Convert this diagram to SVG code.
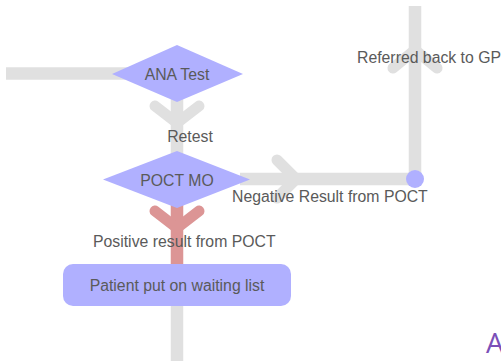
<svg xmlns="http://www.w3.org/2000/svg" width="501" height="363" viewBox="0 0 501 363">
<style>
.ln{fill:none;stroke:#e0e0e0;stroke-width:12.5;}
.ar{fill:none;stroke:#e0e0e0;stroke-width:11;stroke-linecap:round;stroke-linejoin:round;}
.red{fill:none;stroke:#dc9595;stroke-width:12.5;}
.redar{fill:none;stroke:#dc9595;stroke-width:11;stroke-linecap:round;stroke-linejoin:round;}
.node{fill:#b0b0ff;}
.t{font-family:"Liberation Sans",Arial,sans-serif;font-size:15.8px;fill:#5a5a5a;}
.c{text-anchor:middle;}
</style>
<rect width="501" height="363" fill="#ffffff"/>
<g id="connectors">
<path class="ln" d="M6,73.5 H130"/>
<path class="ln" d="M177,90 V160"/>
<path class="ar" d="M155,106 L177,123 L199,106"/>
<path class="ln" d="M240,179 H415 V6"/>
<path class="ar" d="M277,160 L296,179 L277,198"/>
<path class="ar" d="M393,68 L415,50 L437,68"/>
<path class="red" d="M177,200 V270"/>
<path class="redar" d="M155,211 L177,228 L199,211"/>
<path class="ln" d="M177,300 V361"/>
</g>
<g id="ana-test">
<polygon class="node" points="177,45 243,74 177,102 112,74"/>
<text class="t c" x="177" y="80">ANA Test</text>
</g>
<g id="poct-mo">
<polygon class="node" points="177,151 250,179.5 177,208 103,179.5"/>
<text class="t c" x="177" y="186">POCT MO</text>
</g>
<g id="junction">
<circle class="node" cx="415" cy="179" r="9"/>
</g>
<g id="waiting-list">
<rect class="node" x="63" y="264" width="228" height="42" rx="10"/>
<text class="t c" x="177" y="291">Patient put on waiting list</text>
</g>
<g id="labels">
<text class="t c" x="190" y="142">Retest</text>
<text class="t" x="357" y="63">Referred back to GP</text>
<text class="t" x="232" y="202">Negative Result from POCT</text>
<text class="t" x="93" y="247">Positive result from POCT</text>
</g>
<text x="486" y="353" font-family="'Open Sans',sans-serif" font-size="28" fill="#7b4fb8">A</text>
</svg>
